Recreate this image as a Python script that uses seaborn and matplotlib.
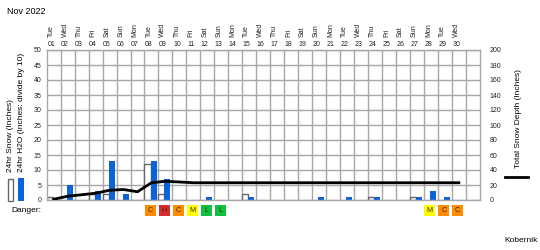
import numpy as np
import pandas as pd
import matplotlib
matplotlib.use("Agg")
import matplotlib.pyplot as plt
import matplotlib.transforms as mtrans
from matplotlib.patches import Rectangle
from matplotlib.lines import Line2D
import seaborn as sns

# ---------------- data ----------------
day_labels = [f"{d:02d}" for d in range(1, 31)]
day_names = ["Tue", "Wed", "Thu", "Fri", "Sat", "Sun", "Mon"] * 4 + ["Tue", "Wed"]
snow_24h = [1, 0, 0, 2, 2, 0, 0, 12, 2, 0, 0, 0, 0, 0, 2,
            0, 0, 0, 0, 0, 0, 0, 0, 1, 0, 0, 1, 0, 0, 0]
h2o_24h_x10 = [0, 5, 0, 3, 13, 2, 0, 13, 7, 0, 0, 1, 0, 0, 1,
               0, 0, 0, 0, 1, 0, 1, 0, 1, 0, 0, 1, 3, 1, 0]
total_depth = [1, 5, 7, 9, 13, 14, 11, 23, 25, 24, 23, 23, 23, 23, 23,
               23, 23, 23, 23, 23, 23, 23, 23, 23, 23, 23, 23, 23, 23, 23]
danger = ["", "", "", "", "", "", "", "C", "H", "C", "M", "L", "L", "", "",
          "", "", "", "", "", "", "", "", "", "", "", "", "M", "C", "C"]
danger_colors = {"L": "#10c040", "M": "#ffff00", "C": "#ff8c00", "H": "#d42f2a"}

W, H = 540, 250
GRID = "#a8a8a8"
BLUE = "#0a64d8"

plt.rcParams["font.family"] = ["Liberation Sans", "DejaVu Sans"]

fig = plt.figure(figsize=(W / 100, H / 100), dpi=100)
L, R, T, B = 46.7, 479.8, 50, 200
ax = fig.add_axes([L / W, 1 - B / H, (R - L) / W, (B - T) / H])

order = day_labels + [" "]
rows = []
for d, s, h in zip(day_labels, snow_24h, h2o_24h_x10):
    rows.append({"day": d, "series": "snow", "value": s if s else np.nan})
    rows.append({"day": d, "series": "h2o", "value": h if h else np.nan})
df = pd.DataFrame(rows)

sns.barplot(data=df, x="day", y="value", hue="series", order=order,
            hue_order=["snow", "h2o"], palette={"snow": "white", "h2o": BLUE},
            width=0.86, saturation=1, legend=False, ax=ax, zorder=2)
for p in ax.containers[0]:
    p.set_edgecolor("#666666")
    p.set_linewidth(1.0)
for p in ax.containers[1]:
    p.set_linewidth(0)

off = 0.43  # column start relative to category centre
ax.set_xlim(-off, 31 - off)
ax.set_ylim(0, 50)
ax.set_yticks(range(0, 51, 5))
ax.set_xticks([])
ax.set_xlabel("")
ax.set_ylabel("")
ax.grid(axis="y", color=GRID, lw=1.0)
for j in range(1, 31):
    ax.axvline(j - off, color=GRID, lw=1.0, zorder=0.5)
ax.set_axisbelow(True)
for s in ax.spines.values():
    s.set_color(GRID)
    s.set_linewidth(1.0)
ax.tick_params(axis="y", length=0, pad=4, labelsize=5, colors="#222222")

ax2 = ax.twinx()
xs = np.arange(30) - off + 0.5
sns.lineplot(x=xs, y=total_depth, ax=ax2, color="black", lw=2.0)
ax2.set_ylim(0, 200)
ax2.set_yticks(range(0, 201, 20))
ax2.set_ylabel("")
ax2.tick_params(axis="y", length=0, pad=7, labelsize=5, colors="#222222")
for s in ax2.spines.values():
    s.set_visible(False)

# top day labels
tr = mtrans.blended_transform_factory(ax.transData, fig.transFigure)
for j, (d, n) in enumerate(zip(day_labels, day_names)):
    x = j - off + 0.32
    ax.text(x, 1 - 44.5 / H, d, transform=tr, ha="center", va="center",
            fontsize=5, color="#222222")
    ax.text(x, 1 - 37 / H, n, transform=tr, ha="left", va="center",
            rotation=90, rotation_mode="anchor", fontsize=5, color="#222222")

# danger boxes
for j, lev in enumerate(danger):
    if not lev:
        continue
    x0 = j - off + 0.04
    rect = Rectangle((x0, 1 - 216 / H), 0.76, 11 / H, transform=tr,
                     facecolor=danger_colors[lev], edgecolor="none", clip_on=False)
    ax.add_patch(rect)
    ax.text(x0 + 0.38, 1 - 210.5 / H, lev, transform=tr, ha="center", va="center",
            fontsize=5.2, color="#3a2a10", clip_on=False)

# texts
fig.text(7 / W, 1 - 12 / H, "Nov 2022", ha="left", va="center", fontsize=6.5)
fig.text(41 / W, 1 - 210.5 / H, "Danger:", ha="right", va="center", fontsize=6)
fig.text(538 / W, 1 - 240 / H, "Kobernik", ha="right", va="center", fontsize=6)
fig.text(10.5 / W, 1 - 172 / H, "24hr Snow (Inches)", rotation=90,
         rotation_mode="anchor", ha="left", va="center", fontsize=6)
fig.text(21.5 / W, 1 - 172 / H, "24hr H2O (Inches: divide by 10)", rotation=90,
         rotation_mode="anchor", ha="left", va="center", fontsize=6)
fig.text(518 / W, 1 - 119 / H, "Total Snow Depth (Inches)", rotation=90,
         ha="center", va="center", fontsize=6)

# legend keys
fig.patches.append(Rectangle((7.5 / W, 1 - 200.5 / H), 5.2 / W, 22 / H,
                             transform=fig.transFigure, facecolor="white",
                             edgecolor="#666666", lw=1.0))
fig.patches.append(Rectangle((18.3 / W, 1 - 200.5 / H), 5.7 / W, 22.5 / H,
                             transform=fig.transFigure, facecolor=BLUE,
                             edgecolor="none"))
fig.lines.append(Line2D([505 / W, 528 / W], [1 - 177 / H, 1 - 177 / H],
                        transform=fig.transFigure, color="black", lw=2.0))

fig.savefig("out.png", dpi=100)
